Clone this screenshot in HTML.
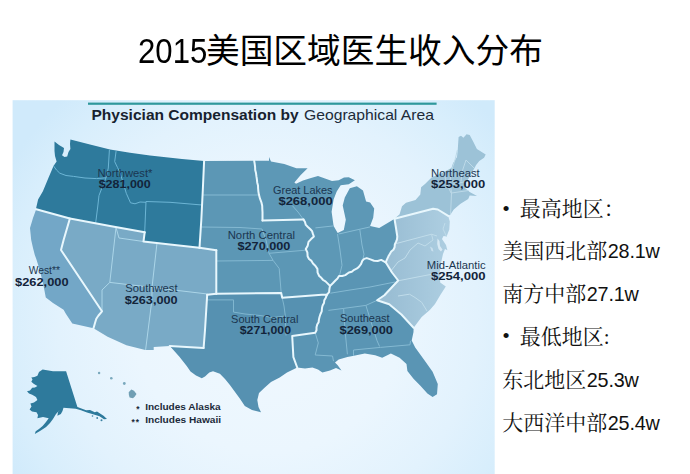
<!DOCTYPE html>
<html lang="zh-CN">
<head>
<meta charset="utf-8">
<title>2015美国区域医生收入分布</title>
<style>
html,body{margin:0;padding:0;background:#fff;}
body{width:690px;height:474px;position:relative;overflow:hidden;font-family:"Liberation Sans","Noto Sans CJK SC",sans-serif;}
.title{position:absolute;left:138.2px;top:27.6px;height:46px;line-height:46px;font-size:33.7px;color:#000;white-space:nowrap;font-family:"Liberation Sans","Noto Sans CJK SC",sans-serif;}
.title .d{display:inline-block;font-size:35.6px;transform:scaleX(0.875);transform-origin:0 50%;margin-right:-11.4px;vertical-align:baseline;}
.r{position:absolute;left:502.2px;white-space:nowrap;font-family:"Liberation Serif","Noto Serif CJK SC",serif;font-size:21px;line-height:30px;height:30px;color:#111;}
.r .n{font-family:"Liberation Sans",sans-serif;font-size:19.8px;letter-spacing:-0.2px;margin-left:0.6px;}
.r .b{font-family:"Liberation Sans",sans-serif;display:inline-block;width:17.6px;font-size:19px;line-height:20px;vertical-align:1.5px;text-indent:0.6px;}
</style>
</head>
<body>
<div class="title"><span class="d">2015</span>美国区域医生收入分布</div>
<svg width="483" height="374" viewBox="12 100 483 374" style="position:absolute;left:12px;top:100px">
<defs>
<radialGradient id="bg" gradientUnits="userSpaceOnUse" cx="268" cy="318" r="300">
<stop offset="0" stop-color="#f0f8fe"/><stop offset="0.45" stop-color="#ebf6fe"/><stop offset="0.7" stop-color="#e2f2fd"/><stop offset="0.88" stop-color="#d8eefc"/><stop offset="1" stop-color="#d0eafb"/>
</radialGradient>
<linearGradient id="mag" gradientUnits="userSpaceOnUse" x1="390" y1="0" x2="448" y2="0"><stop offset="0" stop-color="#9abed4"/><stop offset="1" stop-color="#adcee1"/></linearGradient>
<filter id="soft" x="-5%" y="-5%" width="110%" height="110%"><feGaussianBlur stdDeviation="0.45"/></filter>
</defs>
<rect x="12.6" y="100.2" width="482.1" height="374" fill="url(#bg)"/>
<rect x="88" y="102.6" width="348.6" height="2.2" fill="#2f989c"/>
<g filter="url(#soft)">
<path d="M70.4,139.5 L90.0,144.5 L110.0,149.5 L130.0,152.8 L150.0,155.5 L182.0,158.9 L204.1,161.1 L202.8,190.0 L201.3,220.0 L199.5,247.8 L170.0,244.5 L143.5,241.5 L144.7,232.2 L110.0,226.0 L69.9,218.5 L36.2,209.3 L36.2,207.8 L38.1,199.6 L42.9,191.2 L48.2,178.5 L53.5,165.9 L56.6,161.6 L55.0,156.0 L54.5,151.1 L54.5,141.6 L59.0,145.0 L64.0,148.0 L63.5,152.0 L62.0,155.3 L64.5,157.0 L67.2,156.4 L68.5,152.0 L70.4,149.0 L70.0,144.0 L70.4,139.5Z" fill="#2e7a9c"/>
<path d="M69.9,218.5 L63.6,240.0 L61.0,250.0 L102.0,311.3 L98.5,315.5 L96.3,318.8 L95.0,323.0 L93.5,328.2 L72.3,323.5 L66.0,314.0 L63.6,309.8 L53.0,303.0 L45.8,297.4 L43.6,286.0 L40.5,273.0 L38.2,265.0 L36.3,259.0 L34.8,255.0 L33.0,248.0 L31.2,240.0 L30.0,228.0 L33.0,218.0 L36.2,209.3Z" fill="#73a7c7"/>
<path d="M69.9,218.5 L110.0,226.0 L144.7,232.2 L143.5,241.5 L170.0,244.5 L199.5,247.8 L216.3,250.2 L216.3,293.8 L207.2,294.8 L205.0,330.0 L203.6,348.0 L169.7,346.1 L153.7,347.1 L153.7,349.9 L145.3,349.9 L126.4,345.2 L107.6,336.7 L93.5,328.2 L95.0,323.0 L96.3,318.8 L98.5,315.5 L102.0,311.3 L61.0,250.0 L63.6,240.0 L69.9,218.5Z" fill="#79aac6"/>
<path d="M204.1,161.1 L254.2,160.8 L254.7,163.9 L255.1,167.0 L255.2,170.1 L256.0,173.1 L256.4,176.2 L256.9,179.3 L257.2,182.4 L258.0,185.4 L258.1,188.5 L258.4,191.6 L258.9,194.6 L260.0,198.7 L261.5,202.7 L262.2,205.8 L262.3,208.9 L262.5,212.0 L262.5,220.5 L303.5,219.5 L305.0,222.1 L305.8,224.9 L307.9,227.0 L310.1,229.0 L312.1,231.2 L312.9,233.9 L313.9,236.5 L311.1,239.1 L308.5,241.9 L307.7,245.7 L305.8,249.1 L307.4,252.5 L307.6,256.3 L309.0,259.0 L311.5,260.9 L313.0,263.5 L315.5,266.0 L317.4,268.9 L317.6,272.6 L319.2,276.0 L321.3,277.8 L323.1,280.0 L325.5,281.4 L327.8,283.6 L330.0,285.9 L329.4,289.0 L329.1,292.2 L326.8,294.8 L321.8,294.8 L282.2,297.8 L281.2,293.0 L216.3,293.8 L216.3,250.2 L199.5,247.8 L201.3,220.0 L202.8,190.0 L204.1,161.1Z" fill="#5c97b5"/>
<path d="M207.2,294.8 L216.3,293.8 L281.2,293.0 L282.2,297.8 L321.8,294.8 L326.8,294.8 L325.8,297.7 L324.3,300.3 L324.0,303.0 L322.6,305.4 L322.0,308.0 L321.7,311.4 L320.3,314.5 L319.5,317.0 L318.9,319.6 L318.6,322.3 L317.2,324.6 L316.5,327.3 L316.5,330.2 L315.2,332.7 L292.2,336.0 L293.4,357.2 L297.2,367.5 L294.7,368.7 L287.0,372.5 L279.7,377.4 L271.0,382.0 L264.8,387.4 L259.0,393.0 L257.3,399.9 L258.5,407.0 L261.0,412.3 L252.0,410.0 L244.8,406.0 L239.8,398.6 L229.9,384.9 L225.0,379.0 L219.9,373.7 L213.0,371.3 L209.3,372.5 L205.0,376.5 L201.8,378.2 L196.0,375.5 L190.5,371.6 L186.7,365.9 L179.2,356.5 L171.6,348.0 L169.7,346.1 L203.6,348.0 L205.0,330.0 L207.2,294.8Z" fill="#5691b1"/>
<path d="M326.8,294.8 L329.1,292.2 L330.0,285.9 L332.8,283.3 L335.4,280.5 L337.5,278.5 L339.0,276.0 L342.2,276.0 L345.3,275.1 L348.9,272.5 L351.8,271.7 L354.2,269.8 L356.6,268.7 L358.7,267.1 L361.0,264.2 L362.3,260.8 L364.2,258.9 L366.8,258.1 L370.4,259.4 L374.0,260.8 L377.7,261.0 L381.2,259.9 L385.7,262.3 L388.0,266.0 L392.0,272.5 L398.2,280.5 L384.4,295.2 L377.1,300.3 L389.2,304.3 L401.4,314.5 L413.6,327.7 L413.5,332.0 L411.7,340.4 L415.2,347.4 L423.9,359.6 L432.6,371.7 L437.8,383.9 L437.0,394.3 L432.6,397.0 L427.4,393.5 L420.4,385.7 L413.5,378.7 L407.4,370.9 L406.5,363.9 L399.6,357.8 L390.9,353.5 L382.2,357.8 L375.2,355.2 L364.8,353.5 L352.6,356.1 L347.4,357.0 L338.7,359.6 L335.0,362.4 L337.5,365.0 L341.5,370.5 L336.0,368.0 L330.0,370.5 L322.4,372.4 L318.0,369.5 L312.4,367.4 L305.0,368.5 L297.2,367.5 L293.4,357.2 L292.2,336.0 L315.2,332.7 L316.5,330.2 L316.5,327.3 L317.2,324.6 L318.6,322.3 L318.9,319.6 L319.5,317.0 L320.3,314.5 L321.7,311.4 L322.0,308.0 L322.6,305.4 L324.0,303.0 L324.3,300.3 L325.8,297.7 L326.8,294.8Z" fill="#5a95b4"/>
<path d="M254.2,160.8 L269.0,160.8 L269.0,157.0 L271.0,161.5 L284.3,164.1 L296.4,168.2 L307.6,168.2 L300.5,175.3 L294.4,182.4 L296.0,183.8 L303.0,180.5 L311.0,178.0 L318.0,176.0 L325.0,178.5 L332.0,181.0 L338.7,180.2 L344.0,177.5 L348.8,177.2 L354.9,180.2 L348.8,184.3 L340.7,185.3 L336.7,191.4 L333.6,199.5 L331.6,211.7 L333.6,225.9 L337.7,233.0 L343.8,229.9 L345.8,219.8 L342.7,205.6 L344.8,197.5 L349.8,188.3 L356.9,186.3 L363.0,190.4 L366.1,201.5 L370.1,202.5 L374.2,208.6 L373.2,217.7 L370.1,225.9 L379.2,227.9 L391.4,220.8 L394.5,218.8 L396.0,228.0 L397.3,236.5 L397.0,239.3 L396.0,241.9 L394.8,244.5 L394.6,247.3 L393.4,249.8 L391.2,251.6 L389.8,254.0 L388.4,256.3 L387.0,259.3 L385.7,262.3 L381.2,259.9 L377.7,261.0 L374.0,260.8 L370.4,259.4 L366.8,258.1 L364.2,258.9 L362.3,260.8 L361.0,264.2 L358.7,267.1 L356.6,268.7 L354.2,269.8 L351.8,271.7 L348.9,272.5 L345.3,275.1 L342.2,276.0 L339.0,276.0 L337.5,278.5 L335.4,280.5 L332.8,283.3 L330.0,285.9 L327.8,283.6 L325.5,281.4 L323.1,280.0 L321.3,277.8 L319.2,276.0 L317.6,272.6 L317.4,268.9 L315.5,266.0 L313.0,263.5 L311.5,260.9 L309.0,259.0 L307.6,256.3 L307.4,252.5 L305.8,249.1 L307.7,245.7 L308.5,241.9 L311.1,239.1 L313.9,236.5 L312.9,233.9 L312.1,231.2 L310.1,229.0 L307.9,227.0 L305.8,224.9 L305.0,222.1 L303.5,219.5 L262.5,220.5 L262.5,212.0 L262.3,208.9 L262.2,205.8 L261.5,202.7 L260.0,198.7 L258.9,194.6 L258.4,191.6 L258.1,188.5 L258.0,185.4 L257.2,182.4 L256.9,179.3 L256.4,176.2 L256.0,173.1 L255.2,170.1 L255.1,167.0 L254.7,163.9 L254.2,160.8Z" fill="#5d98b6"/>
<path d="M394.5,218.8 L433.1,208.7 L437.8,209.5 L448.2,215.9 L449.8,221.5 L449.3,229.4 L446.6,236.6 L443.5,236.0 L442.0,239.0 L446.0,245.0 L447.4,250.2 L445.0,248.9 L443.0,254.0 L441.0,263.0 L439.7,272.4 L440.2,282.4 L445.8,286.4 L440.2,295.2 L435.0,304.0 L429.8,310.0 L421.7,317.0 L413.6,327.7 L401.4,314.5 L389.2,304.3 L377.1,300.3 L384.4,295.2 L398.2,280.5 L392.0,272.5 L388.0,266.0 L385.7,262.3 L387.0,259.3 L388.4,256.3 L389.8,254.0 L391.2,251.6 L393.4,249.8 L394.6,247.3 L394.8,244.5 L396.0,241.9 L397.0,239.3 L397.3,236.5 L396.0,228.0 L394.5,218.8Z" fill="url(#mag)"/>
<path d="M394.5,218.8 L399.6,214.3 L402.0,206.3 L406.0,202.8 L415.5,200.0 L420.3,194.4 L421.1,187.2 L425.0,184.0 L431.5,177.6 L442.6,172.8 L451.4,168.0 L453.0,163.3 L457.0,156.9 L457.8,148.9 L458.6,137.0 L461.0,135.8 L463.4,137.8 L466.6,134.3 L469.7,134.9 L472.9,141.0 L476.9,148.9 L481.7,152.1 L485.7,154.5 L484.1,157.7 L479.3,160.9 L476.1,164.9 L474.5,168.1 L470.0,176.0 L466.0,183.0 L465.0,188.0 L469.7,192.0 L477.0,196.0 L469.7,195.4 L468.2,199.1 L460.2,204.0 L453.8,209.5 L450.6,214.3 L448.2,215.9 L437.8,209.5 L433.1,208.7 L394.5,218.8Z" fill="#9cc2d7"/>
<path d="M42.6,369.6 L53.0,371.3 L66.1,371.3 L71.3,387.8 L77.4,407.0 L86.1,410.2 L90.0,410.0 L94.8,412.2 L97.0,411.6 L103.5,415.7 L107.0,419.1 L104.0,419.3 L99.5,416.3 L93.0,414.3 L87.0,412.4 L81.0,410.2 L75.7,408.7 L63.5,407.8 L62.5,411.0 L60.9,413.9 L57.4,415.7 L58.0,412.0 L60.0,409.6 L56.0,414.0 L53.0,419.1 L50.0,423.0 L46.1,427.0 L40.0,431.0 L34.8,433.9 L35.7,431.3 L39.0,429.0 L42.6,426.1 L46.0,422.0 L48.7,418.3 L43.0,417.0 L37.4,418.3 L38.0,415.0 L36.5,412.2 L32.0,411.5 L29.6,409.6 L31.5,406.5 L30.4,403.5 L34.0,402.5 L37.4,400.0 L36.0,397.0 L32.2,394.8 L29.0,393.5 L27.0,391.3 L30.0,390.5 L32.2,387.8 L35.0,387.5 L37.4,386.1 L34.0,384.0 L31.3,381.7 L32.5,379.5 L31.3,377.4 L34.5,377.0 L37.4,375.7 L39.0,372.0Z" fill="#2e7a9c"/>
<circle cx="92.5" cy="416" r="0.8" fill="#3a82a3"/>
<circle cx="97.2" cy="418" r="0.9" fill="#3a82a3"/>
<circle cx="101.5" cy="420.3" r="1.0" fill="#3a82a3"/>
<circle cx="99.1" cy="373" r="1.2" fill="#7aa9bd"/>
<circle cx="111.3" cy="378.3" r="1.3" fill="#7aa9bd"/>
<circle cx="124.3" cy="383.5" r="1.4" fill="#7aa9bd"/>
<path d="M128.7,392.2 L131.3,389.6 L134,390.8 L136.5,393.9 L134.8,396.5 L133,398.3 L129.6,397.4 L128.9,395Z" fill="#6f9fb4"/>
<path d="M437.5,238.5 L439.5,241 L440,246 L442.5,249.5 L441,251.5 L438.5,249 L437.2,244 Z" fill="#d7e9f4"/>
<path d="M430,246.5 L432.5,248 L433.5,251.5 L431.5,251 Z" fill="#c9e0ee"/>
<path d="M53.5,165.9 L56.5,170.0 L59.8,173.2 L66.0,175.5 L73.5,176.4 L85.0,178.0 L96.7,178.6 L106.0,177.8" fill="none" stroke="#6cb5d5" stroke-width="1"/>
<path d="M109.4,150.0 L108.3,168.0 L106.3,177.0 L103.0,185.0 L99.0,195.5 L97.8,206.0 L95.7,222.8" fill="none" stroke="#6cb5d5" stroke-width="1"/>
<path d="M116.1,151.1 L114.7,161.6 L117.5,167.5 L119.9,172.2 L123.1,182.7 L126.3,193.3 L130.5,202.8 L135.0,203.8 L140.0,202.0 L146.0,202.3" fill="none" stroke="#6cb5d5" stroke-width="1"/>
<path d="M144.7,232.2 L146.0,201.5 L170.0,202.3 L202.0,205.0" fill="none" stroke="#6cb5d5" stroke-width="1"/>
<path d="M116.0,227.5 L109.8,282.4 L102.0,290.0 L102.0,311.3" fill="none" stroke="#abd5e8" stroke-width="1"/>
<path d="M109.8,282.4 L152.0,287.4 L207.4,294.0" fill="none" stroke="#abd5e8" stroke-width="1"/>
<path d="M157.0,243.0 L152.0,287.4 L151.9,300.0 L145.6,349.9" fill="none" stroke="#abd5e8" stroke-width="1"/>
<path d="M143.5,241.5 L119.0,238.0 L116.0,227.5" fill="none" stroke="#abd5e8" stroke-width="1"/>
<path d="M202.5,195.0 L258.9,195.0" fill="none" stroke="#84b9d2" stroke-width="1"/>
<path d="M201.0,227.0 L240.0,227.5 L262.0,229.0 L266.0,240.0 L269.0,253.3 L273.1,260.4 L279.2,268.5 L281.2,293.0" fill="none" stroke="#84b9d2" stroke-width="1"/>
<path d="M216.3,261.0 L273.1,260.4" fill="none" stroke="#84b9d2" stroke-width="1"/>
<path d="M269.0,253.3 L305.5,250.2" fill="none" stroke="#84b9d2" stroke-width="1"/>
<path d="M207.2,299.9 L233.5,299.9 L233.5,312.1 L245.0,314.0 L260.0,315.5 L273.0,317.5 L285.3,316.0" fill="none" stroke="#80b6cf" stroke-width="1"/>
<path d="M282.2,297.8 L284.0,306.0 L285.3,316.0 L286.0,335.5" fill="none" stroke="#80b6cf" stroke-width="1"/>
<path d="M330.4,293.2 L350.0,290.0 L370.0,287.0 L395.0,282.0" fill="none" stroke="#84b9d2" stroke-width="1"/>
<path d="M328.4,310.4 L343.6,308.4 L365.9,305.4 L377.1,300.3" fill="none" stroke="#84b9d2" stroke-width="1"/>
<path d="M343.6,308.4 L345.0,330.0 L347.4,354.3" fill="none" stroke="#84b9d2" stroke-width="1"/>
<path d="M365.9,305.4 L372.0,325.0 L377.1,340.9 L379.6,346.5" fill="none" stroke="#84b9d2" stroke-width="1"/>
<path d="M353.5,356.0 L353.5,350.0 L380.4,347.4 L410.0,344.8 L410.5,340.9" fill="none" stroke="#84b9d2" stroke-width="1"/>
<path d="M315.2,332.7 L318.3,342.9 L315.2,355.0 L332.5,356.0 L333.5,361.1" fill="none" stroke="#84b9d2" stroke-width="1"/>
<path d="M292.4,205.7 L298.0,212.0 L303.5,219.5" fill="none" stroke="#86bbd4" stroke-width="1"/>
<path d="M315.4,227.9 L333.6,225.9" fill="none" stroke="#86bbd4" stroke-width="1"/>
<path d="M338.7,234.0 L370.1,226.9" fill="none" stroke="#86bbd4" stroke-width="1"/>
<path d="M337.5,234.0 L340.0,250.0 L342.0,265.3 L339.5,275.5" fill="none" stroke="#86bbd4" stroke-width="1"/>
<path d="M359.8,229.5 L362.0,245.0 L364.0,254.2 L362.5,261.0" fill="none" stroke="#86bbd4" stroke-width="1"/>
<path d="M396.4,243.5 L431.5,234.2 L437.0,236.0" fill="none" stroke="#c0dcea" stroke-width="1"/>
<path d="M431.5,234.2 L433.0,240.0 L425.0,246.0 L418.0,243.0 L410.0,250.0 L405.0,258.0 L398.0,262.0 L390.7,271.3" fill="none" stroke="#c0dcea" stroke-width="1"/>
<path d="M398.2,280.8 L420.0,276.5 L441.0,272.5" fill="none" stroke="#c0dcea" stroke-width="1"/>
<path d="M398.0,296.0 L409.5,294.2 L415.0,297.5 L421.7,302.3 L427.0,311.0" fill="none" stroke="#c0dcea" stroke-width="1"/>
<path d="M445.0,223.0 L443.0,229.0 L446.6,236.6" fill="none" stroke="#c0dcea" stroke-width="1"/>
<path d="M457.4,150.0 L455.0,160.0 L451.0,172.0 L450.0,182.0 L451.5,193.0 L450.6,214.3" fill="none" stroke="#bcd9e8" stroke-width="1"/>
<path d="M452.0,184.5 L466.0,181.5" fill="none" stroke="#bcd9e8" stroke-width="1"/>
<path d="M451.5,193.0 L468.5,190.5" fill="none" stroke="#bcd9e8" stroke-width="1"/>
<path d="M461.0,181.5 L462.0,172.0 L466.0,160.0 L474.0,168.0" fill="none" stroke="#bcd9e8" stroke-width="1"/>
<path d="M444.0,173.0 L446.5,183.0 L451.0,193.0" fill="none" stroke="#bcd9e8" stroke-width="1"/>
<path d="M204.1,161.1 L202.8,190.0 L201.3,220.0 L199.5,247.8" fill="none" stroke="#e8f7fd" stroke-width="2.0" stroke-linejoin="round" stroke-linecap="round"/>
<path d="M199.5,247.8 L170.0,244.5 L143.5,241.5 L144.7,232.2" fill="none" stroke="#e8f7fd" stroke-width="2.0" stroke-linejoin="round" stroke-linecap="round"/>
<path d="M144.7,232.2 L110.0,226.0 L69.9,218.5 L36.2,209.3" fill="none" stroke="#e8f7fd" stroke-width="2.0" stroke-linejoin="round" stroke-linecap="round"/>
<path d="M69.9,218.5 L63.6,240.0 L61.0,250.0 L102.0,311.3 L98.5,315.5 L96.3,318.8 L95.0,323.0 L93.5,328.2" fill="none" stroke="#e8f7fd" stroke-width="2.0" stroke-linejoin="round" stroke-linecap="round"/>
<path d="M169.7,346.1 L203.6,348.0" fill="none" stroke="#e8f7fd" stroke-width="2.0" stroke-linejoin="round" stroke-linecap="round"/>
<path d="M203.6,348.0 L205.0,330.0 L207.2,294.8" fill="none" stroke="#e8f7fd" stroke-width="2.0" stroke-linejoin="round" stroke-linecap="round"/>
<path d="M207.2,294.8 L216.3,293.8" fill="none" stroke="#e8f7fd" stroke-width="2.0" stroke-linejoin="round" stroke-linecap="round"/>
<path d="M216.3,293.8 L216.3,250.2" fill="none" stroke="#e8f7fd" stroke-width="2.0" stroke-linejoin="round" stroke-linecap="round"/>
<path d="M216.3,250.2 L199.5,247.8" fill="none" stroke="#e8f7fd" stroke-width="2.0" stroke-linejoin="round" stroke-linecap="round"/>
<path d="M254.2,160.8 L254.7,163.9 L255.1,167.0 L255.2,170.1 L256.0,173.1 L256.4,176.2 L256.9,179.3 L257.2,182.4 L258.0,185.4 L258.1,188.5 L258.4,191.6 L258.9,194.6 L260.0,198.7 L261.5,202.7 L262.2,205.8 L262.3,208.9 L262.5,212.0 L262.5,220.5" fill="none" stroke="#e8f7fd" stroke-width="2.0" stroke-linejoin="round" stroke-linecap="round"/>
<path d="M262.5,220.5 L303.5,219.5" fill="none" stroke="#e8f7fd" stroke-width="2.0" stroke-linejoin="round" stroke-linecap="round"/>
<path d="M303.5,219.5 L305.0,222.1 L305.8,224.9 L307.9,227.0 L310.1,229.0 L312.1,231.2 L312.9,233.9 L313.9,236.5 L311.1,239.1 L308.5,241.9 L307.7,245.7 L305.8,249.1 L307.4,252.5 L307.6,256.3 L309.0,259.0 L311.5,260.9 L313.0,263.5 L315.5,266.0 L317.4,268.9 L317.6,272.6 L319.2,276.0 L321.3,277.8 L323.1,280.0 L325.5,281.4 L327.8,283.6 L330.0,285.9 L329.4,289.0 L329.1,292.2 L326.8,294.8" fill="none" stroke="#e8f7fd" stroke-width="2.0" stroke-linejoin="round" stroke-linecap="round"/>
<path d="M216.3,293.8 L281.2,293.0 L282.2,297.8 L321.8,294.8 L326.8,294.8" fill="none" stroke="#e8f7fd" stroke-width="2.0" stroke-linejoin="round" stroke-linecap="round"/>
<path d="M326.8,294.8 L325.8,297.7 L324.3,300.3 L324.0,303.0 L322.6,305.4 L322.0,308.0 L321.7,311.4 L320.3,314.5 L319.5,317.0 L318.9,319.6 L318.6,322.3 L317.2,324.6 L316.5,327.3 L316.5,330.2 L315.2,332.7 L292.2,336.0 L293.4,357.2 L297.2,367.5" fill="none" stroke="#e8f7fd" stroke-width="2.0" stroke-linejoin="round" stroke-linecap="round"/>
<path d="M330.0,285.9 L332.8,283.3 L335.4,280.5 L337.5,278.5 L339.0,276.0 L342.2,276.0 L345.3,275.1 L348.9,272.5 L351.8,271.7 L354.2,269.8 L356.6,268.7 L358.7,267.1 L361.0,264.2 L362.3,260.8 L364.2,258.9 L366.8,258.1 L370.4,259.4 L374.0,260.8 L377.7,261.0 L381.2,259.9 L385.7,262.3" fill="none" stroke="#e8f7fd" stroke-width="2.0" stroke-linejoin="round" stroke-linecap="round"/>
<path d="M385.7,262.3 L388.0,266.0 L392.0,272.5 L398.2,280.5 L384.4,295.2 L377.1,300.3 L389.2,304.3 L401.4,314.5 L413.6,327.7" fill="none" stroke="#e8f7fd" stroke-width="2.0" stroke-linejoin="round" stroke-linecap="round"/>
<path d="M385.7,262.3 L387.0,259.3 L388.4,256.3 L389.8,254.0 L391.2,251.6 L393.4,249.8 L394.6,247.3 L394.8,244.5 L396.0,241.9 L397.0,239.3 L397.3,236.5 L396.0,228.0 L394.5,218.8" fill="none" stroke="#e8f7fd" stroke-width="2.0" stroke-linejoin="round" stroke-linecap="round"/>
<path d="M394.5,218.8 L433.1,208.7 L437.8,209.5 L448.2,215.9" fill="none" stroke="#e8f7fd" stroke-width="2.0" stroke-linejoin="round" stroke-linecap="round"/>
</g>
<g font-family="'Liberation Sans', sans-serif">
<text x="91.5" y="120.4" font-size="14.5" font-weight="700" fill="#17222f" textLength="207.1" lengthAdjust="spacingAndGlyphs">Physician Compensation by</text>
<text x="304" y="120.4" font-size="14.5" fill="#202b39" textLength="130" lengthAdjust="spacingAndGlyphs">Geographical Area</text>
<text x="97.4" y="176.5" font-size="10.1" fill="#1b3650" textLength="55.0" lengthAdjust="spacingAndGlyphs">Northwest*</text>
<text x="98.7" y="188.2" font-size="11.2" font-weight="700" fill="#13243a" textLength="52.0" lengthAdjust="spacingAndGlyphs">$281,000</text>
<text x="273" y="193.7" font-size="10.1" fill="#1b3650" textLength="59.5" lengthAdjust="spacingAndGlyphs">Great Lakes</text>
<text x="278.4" y="204.6" font-size="11.2" font-weight="700" fill="#13243a" textLength="54.3" lengthAdjust="spacingAndGlyphs">$268,000</text>
<text x="227.7" y="239" font-size="10.1" fill="#1b3650" textLength="67.3" lengthAdjust="spacingAndGlyphs">North Central</text>
<text x="237.5" y="250.2" font-size="11.2" font-weight="700" fill="#13243a" textLength="52.9" lengthAdjust="spacingAndGlyphs">$270,000</text>
<text x="28.7" y="274.2" font-size="10.1" fill="#1b3650" textLength="31.2" lengthAdjust="spacingAndGlyphs">West**</text>
<text x="15" y="285.6" font-size="11.2" font-weight="700" fill="#13243a" textLength="53.6" lengthAdjust="spacingAndGlyphs">$262,000</text>
<text x="125.2" y="292.4" font-size="10.1" fill="#1b3650" textLength="52.4" lengthAdjust="spacingAndGlyphs">Southwest</text>
<text x="124.7" y="304.3" font-size="11.2" font-weight="700" fill="#13243a" textLength="52.9" lengthAdjust="spacingAndGlyphs">$263,000</text>
<text x="231.1" y="322.8" font-size="10.1" fill="#1b3650" textLength="67.3" lengthAdjust="spacingAndGlyphs">South Central</text>
<text x="239.8" y="333.5" font-size="11.2" font-weight="700" fill="#13243a" textLength="51.2" lengthAdjust="spacingAndGlyphs">$271,000</text>
<text x="340" y="321.8" font-size="10.1" fill="#1b3650" textLength="49.7" lengthAdjust="spacingAndGlyphs">Southeast</text>
<text x="339.5" y="333.6" font-size="11.2" font-weight="700" fill="#13243a" textLength="53.5" lengthAdjust="spacingAndGlyphs">$269,000</text>
<text x="426.8" y="268.8" font-size="10.1" fill="#1b3650" textLength="58.8" lengthAdjust="spacingAndGlyphs">Mid-Atlantic</text>
<text x="430.9" y="279.5" font-size="11.2" font-weight="700" fill="#13243a" textLength="54.8" lengthAdjust="spacingAndGlyphs">$254,000</text>
<text x="431.1" y="176.5" font-size="10.1" fill="#1b3650" textLength="48.5" lengthAdjust="spacingAndGlyphs">Northeast</text>
<text x="431.1" y="187.7" font-size="11.2" font-weight="700" fill="#13243a" textLength="54.2" lengthAdjust="spacingAndGlyphs">$253,000</text>
<text x="145.2" y="410.3" font-size="9.5" font-weight="700" fill="#1b2a3a" textLength="75.5" lengthAdjust="spacingAndGlyphs">Includes Alaska</text>
<text x="145.2" y="423.2" font-size="9.5" font-weight="700" fill="#1b2a3a" textLength="75.9" lengthAdjust="spacingAndGlyphs">Includes Hawaii</text>
<text x="136.2" y="411.9" font-size="8.4" font-weight="700" fill="#1b2a3a">*</text>
<text x="131.6" y="425.1" font-size="8.4" font-weight="700" fill="#1b2a3a" letter-spacing="0.85">**</text>
</g>
</svg>
<div class="r" style="top:194px"><span class="b">•</span>最高地区：</div>
<div class="r" style="top:236px">美国西北部<span class="n">28.1w</span></div>
<div class="r" style="top:279px">南方中部<span class="n">27.1w</span></div>
<div class="r" style="top:321.5px"><span class="b">•</span>最低地区:</div>
<div class="r" style="top:364.5px">东北地区<span class="n">25.3w</span></div>
<div class="r" style="top:407.5px">大西洋中部<span class="n">25.4w</span></div>
</body>
</html>
